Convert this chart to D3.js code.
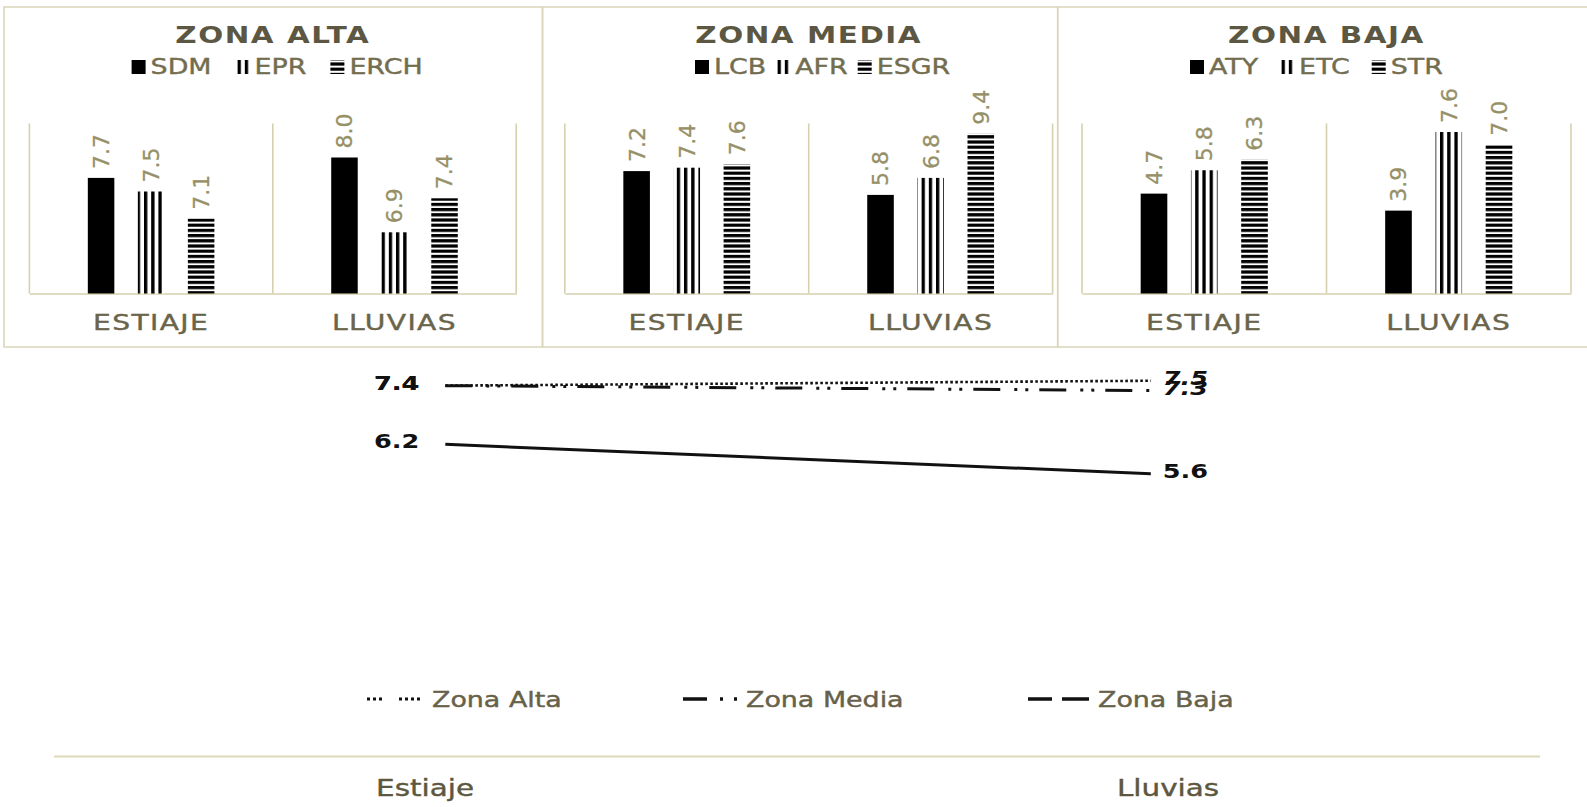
<!DOCTYPE html>
<html>
<head>
<meta charset="utf-8">
<script src="https://cdn.jsdelivr.net/npm/d3@7"></script>
<style>
  html, body { margin: 0; padding: 0; background: #ffffff; }
  svg { display: block; }
</style>
</head>
<body>
<svg id="chart" width="1587" height="807"></svg>
<script>
// ---- data ----
const periods = ["ESTIAJE", "LLUVIAS"];
const zoneTitles = ["ZONA ALTA", "ZONA MEDIA", "ZONA BAJA"];

const altaSeries = ["SDM", "EPR", "ERCH"];
const altaEstiaje = [7.7, 7.5, 7.1];
const altaLluvias = [8.0, 6.9, 7.4];
const altaRange = [6, 8.5];

const mediaSeries = ["LCB", "AFR", "ESGR"];
const mediaEstiaje = [7.2, 7.4, 7.6];
const mediaLluvias = [5.8, 6.8, 9.4];
const mediaRange = [0, 10];

const bajaSeries = ["ATY", "ETC", "STR"];
const bajaEstiaje = [4.7, 5.8, 6.3];
const bajaLluvias = [3.9, 7.6, 7.0];
const bajaRange = [0, 8];

const trendPeriods = ["Estiaje", "Lluvias"];
const trendNames = ["Zona Alta", "Zona Media", "Zona Baja"];
const trendAlta = [7.4, 7.5];
const trendMedia = [7.4, 7.3];
const trendBaja = [6.2, 5.6];
const trendRange = [0, 8];

// ---- styling ----
const FONT = "'DejaVu Sans', Verdana, sans-serif";
const K = 1.28;                 // horizontal text width factor
const BORDER = "#dbd7bd";
const FRAME = "#d6d1ad";
const TITLE_TXT = "#5b5742";
const LEGEND_TXT = "#736d4f";
const AXIS_TXT = "#69644a";
const VALUE_TXT = "#969067";
const INK = "#111111";

const svg = d3.select("#chart").attr("font-family", FONT);
const defs = svg.append("defs");

// slightly heavier strokes on regular text
function thicken(sel, color, w) {
  return sel.attr("stroke", color).attr("stroke-width", w).attr("paint-order", "stroke");
}

function addStripes(id, dir, period, ink) {
  const w = dir === "v" ? period : 10;
  const h = dir === "v" ? 10 : period;
  const p = defs.append("pattern").attr("id", id)
    .attr("patternUnits", "userSpaceOnUse")
    .attr("width", w).attr("height", h);
  p.append("rect").attr("width", w).attr("height", h).attr("fill", "#fff");
  p.append("rect")
    .attr("width", dir === "v" ? ink : w)
    .attr("height", dir === "v" ? h : ink)
    .attr("fill", "#000");
}
addStripes("vstripes", "v", 7.2, 3.3);
addStripes("hstripes", "h", 5.2, 3.2);
const seriesFill = ["#000", "url(#vstripes)", "url(#hstripes)"];

// ---- small multiples: one bar panel per zone ----
const panels = [
  { title: zoneTitles[0], names: altaSeries, values: [altaEstiaje, altaLluvias], domain: altaRange },
  { title: zoneTitles[1], names: mediaSeries, values: [mediaEstiaje, mediaLluvias], domain: mediaRange },
  { title: zoneTitles[2], names: bajaSeries, values: [bajaEstiaje, bajaLluvias], domain: bajaRange }
];
const panelLayout = [
  { box: [4, 542.5], frame: [29.4, 516.2], legendX: 131.6, legendGap: 24 },
  { box: [542.5, 1057.7], frame: [564.8, 1052.6], legendX: 695, legendGap: 10 },
  { box: [1057.7, 1600], frame: [1082, 1571], legendX: 1190, legendGap: 22 }
];
const boxTop = 7, boxBottom = 347;
const plotTop = 123.5, plotBottom = 293.5;

panels.forEach((p, i) => {
  const L = panelLayout[i];
  const g = svg.append("g").attr("class", "panel");

  g.append("rect")
    .attr("x", L.box[0]).attr("y", boxTop)
    .attr("width", L.box[1] - L.box[0]).attr("height", boxBottom - boxTop)
    .attr("fill", "none").attr("stroke", BORDER).attr("stroke-width", 1.6);

  const x = d3.scaleBand().domain(periods).range(L.frame);
  const inner = d3.scaleBand().domain(p.names)
    .range([x.bandwidth() * 0.24, x.bandwidth() * 0.76])
    .paddingInner(0.47);
  const y = d3.scaleLinear().domain(p.domain).range([plotBottom, plotTop]);

  // category separators
  const edges = periods.map(d => x(d)).concat([L.frame[1]]);
  g.selectAll("line.sep").data(edges).join("line").attr("class", "sep")
    .attr("x1", d => d).attr("x2", d => d)
    .attr("y1", plotTop).attr("y2", plotBottom)
    .attr("stroke", FRAME).attr("stroke-width", 1.6);

  // category axis
  const ax = g.append("g").attr("transform", `translate(0,${plotBottom})`)
    .call(d3.axisBottom(x).tickSize(0).tickPadding(21));
  ax.select(".domain").attr("stroke", FRAME).attr("stroke-width", 1.6);
  thicken(ax.selectAll("text")
    .attr("font-family", FONT).attr("font-size", 22).attr("fill", AXIS_TXT)
    .attr("letter-spacing", 1.1)
    .attr("transform", `scale(${K},1)`), AXIS_TXT, 0.4);

  // bars
  const cells = [];
  periods.forEach((per, pi) => p.names.forEach((nm, si) => {
    cells.push({ per, nm, si, v: p.values[pi][si] });
  }));
  g.selectAll("rect.bar").data(cells).join("rect").attr("class", "bar")
    .attr("x", d => x(d.per) + inner(d.nm))
    .attr("width", inner.bandwidth())
    .attr("y", d => y(d.v))
    .attr("height", d => plotBottom - y(d.v))
    .attr("fill", d => seriesFill[d.si]);

  // value labels
  thicken(g.selectAll("text.val").data(cells).join("text").attr("class", "val")
    .attr("transform", d => `translate(${x(d.per) + inner(d.nm) + inner.bandwidth() / 2},${y(d.v) - 9}) rotate(-90)`)
    .attr("dy", "0.36em")
    .attr("font-size", 22).attr("fill", VALUE_TXT)
    .text(d => d.v.toFixed(1)), VALUE_TXT, 0.3);

  // title
  g.append("text")
    .attr("transform", `translate(${(L.frame[0] + L.frame[1]) / 2},42.5) scale(${K},1)`)
    .attr("text-anchor", "middle")
    .attr("font-size", 23).attr("font-weight", "bold")
    .attr("letter-spacing", 1.2)
    .attr("fill", TITLE_TXT)
    .text(p.title);

  // legend
  let lx = L.legendX;
  p.names.forEach((nm, si) => {
    g.append("rect").attr("x", lx).attr("y", 60).attr("width", 14).attr("height", 14)
      .attr("fill", seriesFill[si]);
    lx += 19;
    const t = g.append("text")
      .attr("transform", `translate(${lx},74) scale(${K},1)`)
      .attr("font-size", 21).attr("fill", LEGEND_TXT)
      .text(nm);
    thicken(t, LEGEND_TXT, 0.4);
    lx += t.node().getComputedTextLength() * K + L.legendGap;
  });
});

// ---- trend chart: zone averages per season ----
const xTrend = d3.scalePoint().domain(trendPeriods).range([445.3, 1150.8]);
const yTrend = d3.scaleLinear().domain(trendRange).range([747.5, 356.3]);
const xCat = d3.scaleBand().domain(trendPeriods).range([53.6, 1539.5]);

const trend = svg.append("g").attr("class", "trend");

const cat = trend.append("g").attr("transform", "translate(0,756)")
  .call(d3.axisBottom(xCat).tickSize(0).tickPadding(24));
cat.select(".domain").attr("stroke", "#dcd9b6").attr("stroke-width", 2);
thicken(cat.selectAll("text")
  .attr("font-family", FONT).attr("font-size", 23).attr("fill", "#5c573e")
  .attr("transform", `scale(${K},1)`), "#5c573e", 0.4);

const trendSeries = [
  { name: trendNames[2], values: trendBaja, dash: null, width: 3,
    legendDash: "24,10,27,200", legendWidth: 3.5, legendX: [1028, 1089], italicEnd: false },
  { name: trendNames[1], values: trendMedia, dash: "27,14,3,8,3,11", width: 3,
    legendDash: "24,13,3,11,3,200", legendWidth: 3.5, legendX: [683, 737], italicEnd: true },
  { name: trendNames[0], values: trendAlta, dash: "2.6,2.4", width: 2.6,
    legendDash: "3,3,3,3,3,17,3,3,3,3,3,3,3,200", legendWidth: 3, legendX: [367, 423], italicEnd: true }
];

const line = d3.line()
  .x((d, i) => xTrend(trendPeriods[i]))
  .y(d => yTrend(d));

trendSeries.forEach(s => {
  trend.append("path").datum(s.values)
    .attr("d", line)
    .attr("fill", "none")
    .attr("stroke", INK)
    .attr("stroke-width", s.width)
    .attr("stroke-dasharray", s.dash);

  // start value
  trend.append("text")
    .attr("transform", `translate(${xTrend(trendPeriods[0]) - 26},${yTrend(s.values[0]) + 4}) scale(${K},1)`)
    .attr("text-anchor", "end")
    .attr("font-size", 20).attr("font-weight", "bold").attr("fill", INK)
    .text(s.values[0].toFixed(1));
  // end value
  trend.append("text")
    .attr("transform", `translate(${xTrend(trendPeriods[1]) + 12},${yTrend(s.values[1]) + 4}) scale(${K},1)`)
    .attr("font-size", 20).attr("font-weight", "bold")
    .attr("font-style", s.italicEnd ? "italic" : "normal")
    .attr("fill", INK)
    .text(s.values[1].toFixed(1));

  // legend entry
  trend.append("line")
    .attr("x1", s.legendX[0]).attr("x2", s.legendX[1])
    .attr("y1", 699).attr("y2", 699)
    .attr("stroke", INK).attr("stroke-width", s.legendWidth)
    .attr("stroke-dasharray", s.legendDash);
  thicken(trend.append("text")
    .attr("transform", `translate(${s.legendX[1] + 9},707) scale(${K},1)`)
    .attr("font-size", 21).attr("fill", "#67614a")
    .text(s.name), "#67614a", 0.4);
});
</script>
</body>
</html>
